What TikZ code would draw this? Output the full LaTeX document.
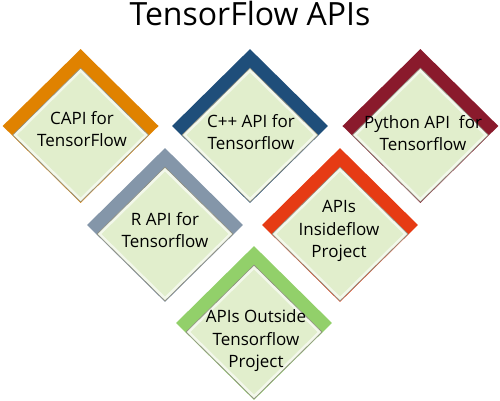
\documentclass[tikz,border=0pt]{standalone}
\usepackage{fontspec}
\setmainfont{Open Sans}
\usetikzlibrary{shapes.geometric}
\usetikzlibrary{positioning}

\definecolor{capicolor}{RGB}{224,130,0}
\definecolor{cppcolor}{RGB}{31,78,122}
\definecolor{pycolor}{RGB}{138,26,44}
\definecolor{rcolor}{RGB}{132,150,169}
\definecolor{insidecolor}{RGB}{230,59,20}
\definecolor{outsidecolor}{RGB}{146,208,106}
\definecolor{facecolor}{RGB}{225,238,204}
\definecolor{facerim}{RGB}{243,248,235}
\definecolor{faceedge}{RGB}{140,140,126}

\tikzset{
    apibox/.style={diamond,minimum width=156pt,minimum height=154pt,inner sep=0pt},
    apiface/.style={diamond,minimum width=136pt,minimum height=134pt,inner sep=0pt,
        fill=facerim,draw=faceedge,line width=0.6pt},
    apicore/.style={diamond,minimum width=127pt,minimum height=125pt,inner sep=0pt,fill=facecolor},
    apitext/.style={align=center,font=\fontsize{17}{22.5}\selectfont}
}

\begin{document}
\begin{tikzpicture}[x=1pt,y=-1pt]
    \useasboundingbox (0,0) rectangle (500,400);
    \node [font=\fontsize{32}{38}\selectfont,anchor=base] (title) at (250,25) {TensorFlow APIs};
    % top row
    \node [apibox,fill=cppcolor] (cpp) at (250,126) {};
    \node [apibox,fill=capicolor] (capi) [left=13pt of cpp] {};
    \node [apibox,fill=pycolor] (py) [right=14pt of cpp] {};
    % middle and bottom rows
    \node [apibox,fill=rcolor] (rapi) at (165,225) {};
    \node [apibox,fill=insidecolor] (inside) at (340,225) {};
    \node [apibox,fill=outsidecolor] (outside) at (254,323) {};
    % faces
    \node [apiface] (capi-face) at ([yshift=-9pt]capi.center) {};
    \node [apicore] (capi-core) at (capi-face) {};
    \node [apiface] (cpp-face) at ([yshift=-9pt]cpp.center) {};
    \node [apicore] (cpp-core) at (cpp-face) {};
    \node [apiface] (py-face) at ([yshift=-9pt]py.center) {};
    \node [apicore] (py-core) at (py-face) {};
    \node [apiface] (rapi-face) at ([yshift=-9pt]rapi.center) {};
    \node [apicore] (rapi-core) at (rapi-face) {};
    \node [apiface] (inside-face) at ([yshift=-9pt]inside.center) {};
    \node [apicore] (inside-core) at (inside-face) {};
    \node [apiface] (outside-face) at ([yshift=-9pt]outside.center) {};
    \node [apicore] (outside-core) at (outside-face) {};
    % labels
    \node [apitext] (capi-text) at (82,129) {CAPI for\\TensorFlow};
    \node [apitext] (cpp-text) at (251,132) {C++ API for\\Tensorflow};
    \node [apitext] (py-text) at (423,133) {Python API\ \ for\\Tensorflow};
    \node [apitext] (rapi-text) at (165,230) {R API for\\Tensorflow};
    \node [apitext] (inside-text) at (339,231) {APIs\\Insideflow\\Project};
    \node [apitext] (outside-text) at (256,341) {APIs Outside\\Tensorflow\\Project};
\end{tikzpicture}
\end{document}
